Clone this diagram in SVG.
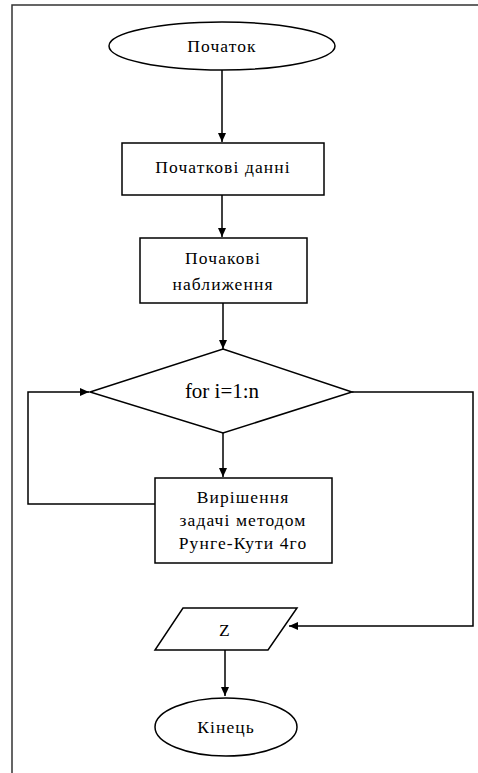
<svg xmlns="http://www.w3.org/2000/svg" width="478" height="773" viewBox="0 0 478 773">
<style>
.s{fill:#fff;stroke:#000;stroke-width:1.5}
.c{fill:none;stroke:#000;stroke-width:1.5}
text{font-family:'Liberation Serif','DejaVu Serif',serif;font-size:17.5px;fill:#000;text-anchor:middle;letter-spacing:1.1px}
.b{font-size:21px;letter-spacing:0}
</style>
<defs>
<marker id="a" markerWidth="10" markerHeight="10" refX="9" refY="5" orient="auto" markerUnits="userSpaceOnUse">
<path d="M0,1 L9,5 L0,9 Z" fill="#000"/>
</marker>
</defs>
<rect x="12" y="5" width="470" height="780" fill="#fff" stroke="#333" stroke-width="1.5"/>
<g id="connectors">
<line class="c" x1="222" y1="70" x2="222" y2="142" marker-end="url(#a)"/>
<line class="c" x1="222" y1="195" x2="222" y2="237" marker-end="url(#a)"/>
<line class="c" x1="223" y1="303" x2="223" y2="349" marker-end="url(#a)"/>
<line class="c" x1="223" y1="433" x2="223" y2="477" marker-end="url(#a)"/>
<polyline class="c" points="155,504 28,504 28,392 89,392" marker-end="url(#a)"/>
<polyline class="c" points="352,392 473,392 473,626 289,626" marker-end="url(#a)"/>
<line class="c" x1="225" y1="650" x2="225" y2="696" marker-end="url(#a)"/>
</g>
<g id="start">
<ellipse class="s" cx="222" cy="46" rx="113" ry="24"/>
<text x="222" y="52" font-family="Liberation Serif, serif">Початок</text>
</g>
<g id="data">
<rect class="s" x="122" y="143" width="202" height="52"/>
<text x="223" y="173" font-family="Liberation Serif, serif">Початкові данні</text>
</g>
<g id="init">
<rect class="s" x="140" y="238" width="167" height="65"/>
<text x="223" y="264" font-family="Liberation Serif, serif">Почакові</text>
<text x="223" y="290" font-family="Liberation Serif, serif">наближення</text>
</g>
<g id="loop">
<polygon class="s" points="223,349 352,392 223,433 90,392"/>
<text class="b" x="222" y="398" font-family="Liberation Serif, serif">for i=1:n</text>
</g>
<g id="solve">
<rect class="s" x="155" y="478" width="177" height="85"/>
<text x="243" y="503" font-family="Liberation Serif, serif">Вирішення</text>
<text x="243" y="526" font-family="Liberation Serif, serif">задачі методом</text>
<text x="243" y="549" font-family="Liberation Serif, serif">Рунге-Кути 4го</text>
</g>
<g id="output">
<polygon class="s" points="183,608 297,608 268,650 155,650"/>
<text x="225" y="636" font-family="Liberation Serif, serif">Z</text>
</g>
<g id="end">
<ellipse class="s" cx="226" cy="727" rx="71" ry="29"/>
<text x="226" y="733" font-family="Liberation Serif, serif">Кінець</text>
</g>
</svg>
